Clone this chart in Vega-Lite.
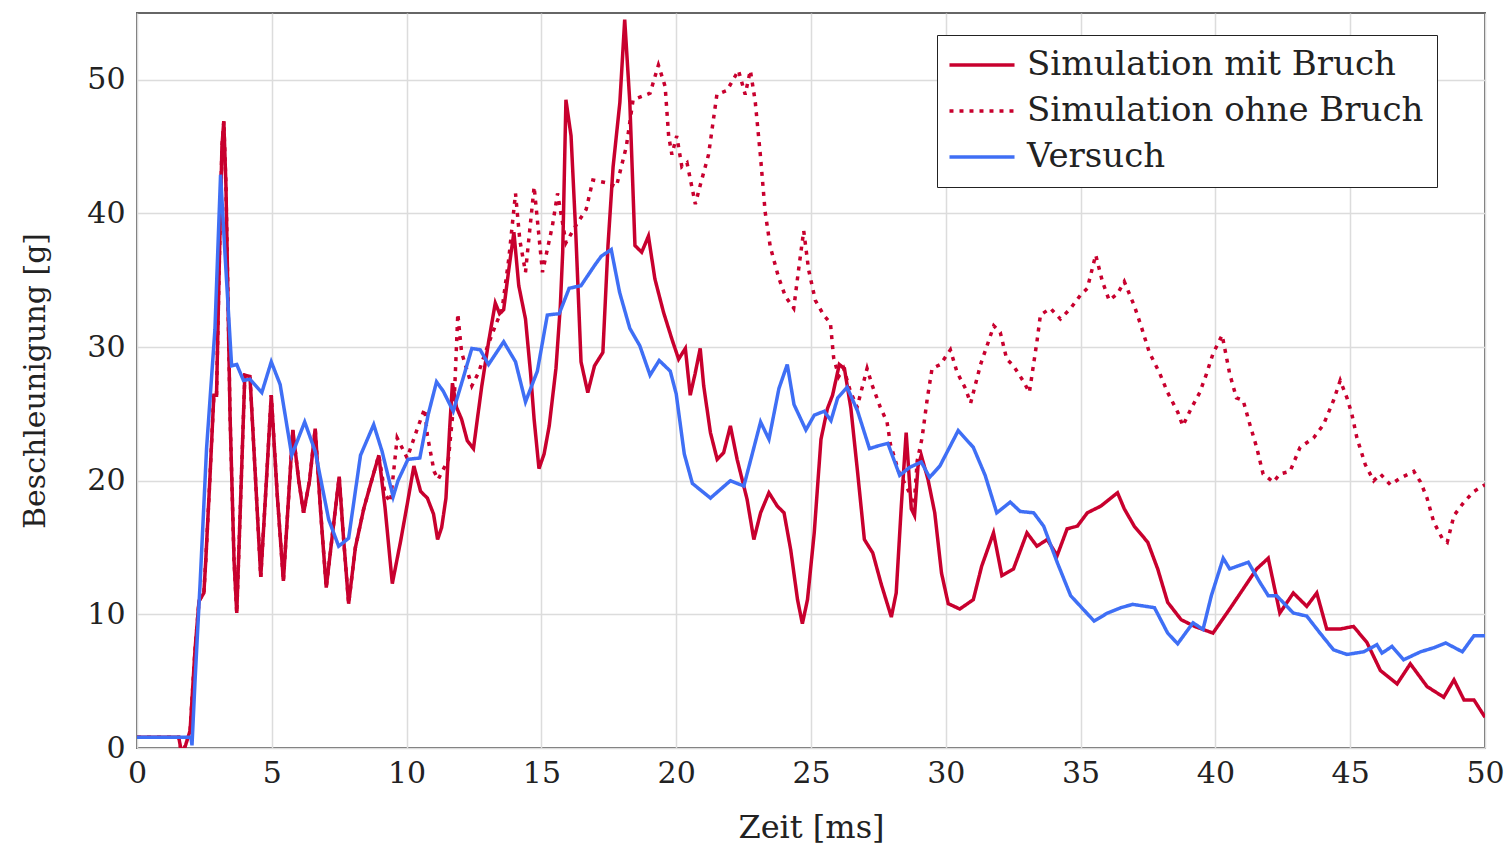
{
  "$schema": "https://vega.github.io/schema/vega-lite/v6.json",
  "width": 1348,
  "height": 735,
  "autosize": "none",
  "padding": {"left": 137, "top": 13, "right": 24, "bottom": 103},
  "background": "white",
  "config": {
    "view": {"stroke": "#666", "strokeWidth": 2},
    "font": "DejaVu Serif",
    "axis": {"labelFont": "DejaVu Serif", "titleFont": "DejaVu Serif", "labelColor": "#222", "titleColor": "#222", "titleFontWeight": "normal", "gridColor": "#dcdcdc", "gridWidth": 1.5, "ticks": false, "domain": false, "labelOverlap": false, "labelFlush": false},
    "legend": {"labelFont": "DejaVu Serif", "labelFontSize": 34, "labelColor": "#222", "labelLimit": 1000}
  },
  "datasets": {
    "mit": [
      {"t":0,"a":0.8},{"t":1.55,"a":0.8},{"t":1.62,"a":0.0},{"t":1.7,"a":-0.3},{"t":1.8,"a":0.2},{"t":1.97,"a":1.3},{"t":2.15,"a":7.3},{"t":2.3,"a":11},{"t":2.48,"a":11.6},{"t":2.55,"a":14},{"t":2.7,"a":20},{"t":2.85,"a":26.4},{"t":2.95,"a":26.4},{"t":3.05,"a":36},{"t":3.15,"a":45},{"t":3.22,"a":46.9},{"t":3.3,"a":42},{"t":3.45,"a":25},{"t":3.6,"a":14},{"t":3.7,"a":10.1},{"t":3.85,"a":19},{"t":4.0,"a":27.9},{"t":4.19,"a":27.8},{"t":4.4,"a":20},{"t":4.59,"a":12.8},{"t":4.8,"a":20},{"t":4.98,"a":26.4},{"t":5.2,"a":19},{"t":5.43,"a":12.5},{"t":5.6,"a":18},{"t":5.78,"a":23.8},{"t":6.0,"a":20},{"t":6.18,"a":17.6},{"t":6.4,"a":20},{"t":6.61,"a":23.9},{"t":6.8,"a":18},{"t":7.02,"a":12.0},{"t":7.25,"a":16},{"t":7.5,"a":20.3},{"t":7.65,"a":16},{"t":7.85,"a":10.8},{"t":8.1,"a":15},{"t":8.41,"a":17.9},{"t":8.7,"a":20},{"t":8.97,"a":21.9},{"t":9.2,"a":18},{"t":9.47,"a":12.3},{"t":9.78,"a":15.5},{"t":10.02,"a":18.2},{"t":10.27,"a":21.1},{"t":10.52,"a":19.2},{"t":10.77,"a":18.7},{"t":11.0,"a":17.5},{"t":11.15,"a":15.6},{"t":11.3,"a":16.5},{"t":11.46,"a":18.7},{"t":11.6,"a":24},{"t":11.7,"a":27.3},{"t":11.85,"a":25.5},{"t":12.04,"a":24.6},{"t":12.25,"a":23},{"t":12.48,"a":22.4},{"t":12.65,"a":25},{"t":12.79,"a":27.1},{"t":13.05,"a":30.5},{"t":13.29,"a":33.3},{"t":13.45,"a":32.5},{"t":13.6,"a":32.8},{"t":13.79,"a":35.8},{"t":13.98,"a":38.6},{"t":14.16,"a":34.6},{"t":14.41,"a":32.1},{"t":14.6,"a":28},{"t":14.73,"a":24.6},{"t":14.91,"a":20.9},{"t":15.1,"a":22},{"t":15.29,"a":24.1},{"t":15.54,"a":28.4},{"t":15.7,"a":33},{"t":15.79,"a":37.1},{"t":15.91,"a":48.5},{"t":16.1,"a":45.8},{"t":16.28,"a":38.3},{"t":16.47,"a":28.9},{"t":16.72,"a":26.6},{"t":16.97,"a":28.6},{"t":17.28,"a":29.6},{"t":17.47,"a":37.6},{"t":17.66,"a":43.5},{"t":17.91,"a":48.3},{"t":18.09,"a":54.5},{"t":18.28,"a":48.3},{"t":18.47,"a":37.6},{"t":18.72,"a":37.1},{"t":18.97,"a":38.3},{"t":19.21,"a":35.1},{"t":19.53,"a":32.6},{"t":19.84,"a":30.6},{"t":20.09,"a":29.1},{"t":20.34,"a":29.9},{"t":20.52,"a":26.4},{"t":20.7,"a":28},{"t":20.89,"a":29.9},{"t":21.02,"a":27.1},{"t":21.27,"a":23.6},{"t":21.52,"a":21.6},{"t":21.76,"a":22.1},{"t":22.01,"a":24.1},{"t":22.26,"a":21.6},{"t":22.63,"a":18.6},{"t":22.88,"a":15.6},{"t":23.13,"a":17.6},{"t":23.44,"a":19.1},{"t":23.75,"a":18.1},{"t":24.0,"a":17.6},{"t":24.25,"a":14.8},{"t":24.5,"a":11.1},{"t":24.68,"a":9.3},{"t":24.87,"a":11.1},{"t":25.12,"a":16.1},{"t":25.37,"a":23.1},{"t":25.61,"a":25.4},{"t":25.8,"a":26.4},{"t":26.05,"a":28.7},{"t":26.24,"a":28.4},{"t":26.48,"a":25.4},{"t":26.73,"a":20.6},{"t":26.98,"a":15.6},{"t":27.29,"a":14.6},{"t":27.6,"a":12.3},{"t":27.98,"a":9.8},{"t":28.16,"a":11.6},{"t":28.35,"a":18.1},{"t":28.53,"a":23.6},{"t":28.72,"a":17.9},{"t":28.84,"a":17.4},{"t":28.97,"a":21.1},{"t":29.09,"a":21.9},{"t":29.34,"a":20.1},{"t":29.59,"a":17.6},{"t":29.84,"a":13.1},{"t":30.09,"a":10.8},{"t":30.52,"a":10.4},{"t":31.02,"a":11.1},{"t":31.33,"a":13.6},{"t":31.77,"a":16.1},{"t":32.08,"a":12.9},{"t":32.51,"a":13.4},{"t":33.01,"a":16.1},{"t":33.38,"a":15.1},{"t":33.76,"a":15.6},{"t":34.13,"a":14.4},{"t":34.5,"a":16.4},{"t":34.88,"a":16.6},{"t":35.25,"a":17.6},{"t":35.75,"a":18.1},{"t":36.37,"a":19.1},{"t":36.62,"a":17.9},{"t":36.99,"a":16.6},{"t":37.49,"a":15.4},{"t":37.86,"a":13.4},{"t":38.23,"a":10.9},{"t":38.73,"a":9.6},{"t":39.23,"a":9.1},{"t":39.91,"a":8.6},{"t":40.53,"a":10.4},{"t":41.03,"a":11.9},{"t":41.53,"a":13.4},{"t":41.96,"a":14.2},{"t":42.39,"a":10.1},{"t":42.89,"a":11.6},{"t":43.39,"a":10.6},{"t":43.76,"a":11.6},{"t":44.13,"a":8.9},{"t":44.63,"a":8.9},{"t":45.12,"a":9.1},{"t":45.62,"a":7.9},{"t":46.12,"a":5.8},{"t":46.74,"a":4.8},{"t":47.23,"a":6.3},{"t":47.85,"a":4.6},{"t":48.47,"a":3.8},{"t":48.85,"a":5.1},{"t":49.22,"a":3.6},{"t":49.59,"a":3.6},{"t":50,"a":2.3}
    ],
    "ohne": [
      {"t":0,"a":0.8},{"t":1.55,"a":0.8},{"t":1.62,"a":0.0},{"t":1.7,"a":-0.3},{"t":1.8,"a":0.2},{"t":1.97,"a":1.3},{"t":2.15,"a":7.3},{"t":2.3,"a":11},{"t":2.48,"a":11.6},{"t":2.55,"a":14},{"t":2.7,"a":20},{"t":2.85,"a":26.4},{"t":2.95,"a":26.4},{"t":3.05,"a":36},{"t":3.15,"a":45},{"t":3.22,"a":46.9},{"t":3.3,"a":42},{"t":3.45,"a":25},{"t":3.6,"a":14},{"t":3.7,"a":10.1},{"t":3.85,"a":19},{"t":4.0,"a":27.9},{"t":4.19,"a":27.8},{"t":4.4,"a":20},{"t":4.59,"a":12.8},{"t":4.8,"a":20},{"t":4.98,"a":26.4},{"t":5.2,"a":19},{"t":5.43,"a":12.5},{"t":5.6,"a":18},{"t":5.78,"a":23.8},{"t":6.0,"a":20},{"t":6.18,"a":17.6},{"t":6.4,"a":20},{"t":6.61,"a":23.9},{"t":6.8,"a":18},{"t":7.02,"a":12.0},{"t":7.25,"a":16},{"t":7.5,"a":20.3},{"t":7.65,"a":16},{"t":7.85,"a":10.8},{"t":8.1,"a":15},{"t":8.41,"a":17.9},{"t":8.7,"a":20},{"t":8.97,"a":21.9},{"t":9.2,"a":19},{"t":9.4,"a":18.4},{"t":9.65,"a":23.2},{"t":10.02,"a":21.7},{"t":10.4,"a":23.9},{"t":10.67,"a":25.4},{"t":10.77,"a":23.4},{"t":11.02,"a":20.7},{"t":11.17,"a":20.1},{"t":11.4,"a":21},{"t":11.55,"a":21.6},{"t":11.77,"a":26.2},{"t":11.9,"a":32.5},{"t":12.04,"a":29.6},{"t":12.42,"a":27.1},{"t":12.67,"a":28.1},{"t":12.92,"a":29.6},{"t":13.29,"a":31.6},{"t":13.54,"a":32.8},{"t":13.79,"a":36.6},{"t":14.04,"a":41.5},{"t":14.2,"a":38},{"t":14.41,"a":35.6},{"t":14.73,"a":42.0},{"t":15.04,"a":35.6},{"t":15.41,"a":39.1},{"t":15.6,"a":41.5},{"t":15.91,"a":37.8},{"t":16.28,"a":39.1},{"t":16.66,"a":40.3},{"t":16.91,"a":42.5},{"t":17.41,"a":42.3},{"t":17.78,"a":42.0},{"t":18.15,"a":45.0},{"t":18.4,"a":48.5},{"t":18.78,"a":48.8},{"t":19.03,"a":49.0},{"t":19.34,"a":51.1},{"t":19.59,"a":49.5},{"t":19.72,"a":45.8},{"t":19.84,"a":44.4},{"t":20.02,"a":45.8},{"t":20.21,"a":43.5},{"t":20.4,"a":43.8},{"t":20.71,"a":40.7},{"t":20.89,"a":42.1},{"t":21.2,"a":44.4},{"t":21.51,"a":48.9},{"t":21.88,"a":49.2},{"t":22.31,"a":50.7},{"t":22.56,"a":48.9},{"t":22.75,"a":50.7},{"t":22.93,"a":48.4},{"t":23.12,"a":44.4},{"t":23.3,"a":40.1},{"t":23.49,"a":37.5},{"t":23.8,"a":35.2},{"t":24.05,"a":33.8},{"t":24.36,"a":32.9},{"t":24.54,"a":35.8},{"t":24.73,"a":38.7},{"t":24.91,"a":35.8},{"t":25.16,"a":33.5},{"t":25.47,"a":32.4},{"t":25.72,"a":31.8},{"t":25.84,"a":29.2},{"t":26.03,"a":27.8},{"t":26.21,"a":28.4},{"t":26.46,"a":26.7},{"t":26.71,"a":25.5},{"t":27.08,"a":28.4},{"t":27.26,"a":27.2},{"t":27.57,"a":25.5},{"t":27.82,"a":24.4},{"t":27.95,"a":22.7},{"t":28.25,"a":20.7},{"t":28.63,"a":19.2},{"t":28.81,"a":17.8},{"t":28.94,"a":21.5},{"t":29.12,"a":23.2},{"t":29.31,"a":26.1},{"t":29.49,"a":28.4},{"t":29.8,"a":28.7},{"t":30.17,"a":29.8},{"t":30.42,"a":28.1},{"t":30.73,"a":26.9},{"t":30.92,"a":25.8},{"t":31.29,"a":28.7},{"t":31.58,"a":30.4},{"t":31.78,"a":31.6},{"t":32.02,"a":31.1},{"t":32.26,"a":29.1},{"t":32.51,"a":28.6},{"t":32.89,"a":27.4},{"t":33.1,"a":26.6},{"t":33.38,"a":30.4},{"t":33.51,"a":32.4},{"t":33.88,"a":32.9},{"t":34.25,"a":32.1},{"t":34.63,"a":32.9},{"t":35.0,"a":33.9},{"t":35.25,"a":34.4},{"t":35.56,"a":36.9},{"t":35.81,"a":34.9},{"t":36.06,"a":33.5},{"t":36.37,"a":34.0},{"t":36.62,"a":34.9},{"t":36.99,"a":33.1},{"t":37.24,"a":31.6},{"t":37.55,"a":29.6},{"t":37.92,"a":28.1},{"t":38.23,"a":26.6},{"t":38.61,"a":25.1},{"t":38.79,"a":24.1},{"t":39.1,"a":25.4},{"t":39.42,"a":26.6},{"t":39.67,"a":28.0},{"t":39.91,"a":29.5},{"t":40.25,"a":30.9},{"t":40.53,"a":28.0},{"t":40.78,"a":26.2},{"t":41.03,"a":26.0},{"t":41.28,"a":24.2},{"t":41.53,"a":22.5},{"t":41.77,"a":20.5},{"t":42.15,"a":19.9},{"t":42.39,"a":20.5},{"t":42.77,"a":20.7},{"t":43.14,"a":22.5},{"t":43.64,"a":23.2},{"t":44.01,"a":24.2},{"t":44.38,"a":26.0},{"t":44.63,"a":27.5},{"t":44.88,"a":26.2},{"t":45.06,"a":25.0},{"t":45.25,"a":23.2},{"t":45.56,"a":21.2},{"t":45.87,"a":20.0},{"t":46.12,"a":20.5},{"t":46.49,"a":19.7},{"t":46.86,"a":20.2},{"t":47.36,"a":20.7},{"t":47.61,"a":19.9},{"t":47.85,"a":18.7},{"t":48.1,"a":16.9},{"t":48.41,"a":15.7},{"t":48.6,"a":15.4},{"t":48.85,"a":17.4},{"t":49.22,"a":18.4},{"t":49.59,"a":19.2},{"t":50,"a":19.7}
    ],
    "vers": [
      {"t":0,"a":0.8},{"t":2.0,"a":0.8},{"t":2.04,"a":0.2},{"t":2.15,"a":4.9},{"t":2.34,"a":12.3},{"t":2.58,"a":22.4},{"t":2.89,"a":31.3},{"t":3.1,"a":42.9},{"t":3.26,"a":37.1},{"t":3.51,"a":28.6},{"t":3.7,"a":28.7},{"t":3.95,"a":27.5},{"t":4.19,"a":27.6},{"t":4.63,"a":26.6},{"t":4.98,"a":28.9},{"t":5.31,"a":27.2},{"t":5.74,"a":21.9},{"t":6.22,"a":24.4},{"t":6.61,"a":22.2},{"t":7.11,"a":17.1},{"t":7.48,"a":15.1},{"t":7.85,"a":15.7},{"t":8.29,"a":21.9},{"t":8.78,"a":24.2},{"t":9.09,"a":22.2},{"t":9.5,"a":18.8},{"t":9.68,"a":20.0},{"t":10.05,"a":21.6},{"t":10.49,"a":21.7},{"t":10.8,"a":24.95},{"t":11.11,"a":27.4},{"t":11.36,"a":26.7},{"t":11.73,"a":25.2},{"t":12.1,"a":27.7},{"t":12.42,"a":29.9},{"t":12.73,"a":29.8},{"t":13.04,"a":28.7},{"t":13.6,"a":30.4},{"t":14.04,"a":28.9},{"t":14.41,"a":25.9},{"t":14.85,"a":28.2},{"t":15.22,"a":32.4},{"t":15.66,"a":32.5},{"t":16.03,"a":34.4},{"t":16.47,"a":34.6},{"t":16.97,"a":36.1},{"t":17.22,"a":36.8},{"t":17.59,"a":37.3},{"t":17.9,"a":34.1},{"t":18.28,"a":31.4},{"t":18.65,"a":30.1},{"t":19.03,"a":27.9},{"t":19.37,"a":29.0},{"t":19.78,"a":28.2},{"t":20.0,"a":26.5},{"t":20.3,"a":22},{"t":20.6,"a":19.8},{"t":21.27,"a":18.7},{"t":22.01,"a":20.0},{"t":22.51,"a":19.6},{"t":23.13,"a":24.4},{"t":23.44,"a":23.1},{"t":23.81,"a":26.9},{"t":24.12,"a":28.7},{"t":24.37,"a":25.7},{"t":24.81,"a":23.8},{"t":25.12,"a":24.9},{"t":25.49,"a":25.2},{"t":25.74,"a":24.5},{"t":25.99,"a":26.2},{"t":26.34,"a":27.0},{"t":26.73,"a":25.2},{"t":27.17,"a":22.4},{"t":27.48,"a":22.6},{"t":27.85,"a":22.8},{"t":28.29,"a":20.4},{"t":28.66,"a":21.0},{"t":29.09,"a":21.4},{"t":29.4,"a":20.25},{"t":29.78,"a":21.1},{"t":30.46,"a":23.75},{"t":31.02,"a":22.5},{"t":31.46,"a":20.4},{"t":31.89,"a":17.6},{"t":32.39,"a":18.4},{"t":32.76,"a":17.7},{"t":33.26,"a":17.6},{"t":33.63,"a":16.6},{"t":34.13,"a":13.9},{"t":34.63,"a":11.4},{"t":35.5,"a":9.5},{"t":36.0,"a":10.1},{"t":36.5,"a":10.5},{"t":36.93,"a":10.75},{"t":37.74,"a":10.5},{"t":38.23,"a":8.6},{"t":38.6,"a":7.8},{"t":39.17,"a":9.37},{"t":39.54,"a":8.87},{"t":39.85,"a":11.4},{"t":40.29,"a":14.2},{"t":40.53,"a":13.4},{"t":41.22,"a":13.9},{"t":41.65,"a":12.4},{"t":41.96,"a":11.4},{"t":42.27,"a":11.4},{"t":42.89,"a":10.1},{"t":43.39,"a":9.87},{"t":43.88,"a":8.6},{"t":44.38,"a":7.35},{"t":44.88,"a":7.0},{"t":45.5,"a":7.2},{"t":45.99,"a":7.73},{"t":46.18,"a":7.1},{"t":46.55,"a":7.6},{"t":46.98,"a":6.6},{"t":47.61,"a":7.2},{"t":48.1,"a":7.5},{"t":48.54,"a":7.86},{"t":49.16,"a":7.2},{"t":49.59,"a":8.4},{"t":50,"a":8.4}
    ]
  },
  "encoding": {
    "x": {"field": "t", "type": "quantitative", "scale": {"domain": [0, 50], "nice": false, "zero": false},
      "axis": {"values": [0,5,10,15,20,25,30,35,40,45,50], "title": "Zeit [ms]", "labelFontSize": 30, "titleFontSize": 32, "labelPadding": 10, "titlePadding": 24}},
    "y": {"field": "a", "type": "quantitative", "scale": {"domain": [0, 55], "nice": false},
      "axis": {"values": [0,10,20,30,40,50], "title": "Beschleunigung [g]", "labelFontSize": 30, "titleFontSize": 30, "labelPadding": 12, "titlePadding": 36}}
  },
  "layer": [
    {
      "data": {"name": "mit"},
      "mark": {"type": "line", "strokeWidth": 3.5, "clip": true, "interpolate": "linear"},
      "encoding": {
        "color": {"datum": "Simulation mit Bruch", "type": "nominal",
          "scale": {"domain": ["Simulation mit Bruch", "Simulation ohne Bruch", "Versuch"], "range": ["#C8002E", "#C8002E", "#3F6FF5"]},
          "legend": {"orient": "none", "legendX": 800, "legendY": 22, "title": null, "symbolType": "M-3,0L3,0", "symbolSize": 470, "symbolStrokeWidth": 3.5, "symbolOffset": 15, "labelOffset": 28, "rowPadding": 12, "padding": 13, "strokeColor": "#222", "fillColor": "white", "cornerRadius": 0}},
        "strokeDash": {"datum": "Simulation mit Bruch", "type": "nominal",
          "scale": {"domain": ["Simulation mit Bruch", "Simulation ohne Bruch", "Versuch"], "range": [[1, 0], [4, 6], [1, 0]]},
          "legend": {"orient": "none", "legendX": 800, "legendY": 22, "title": null, "symbolType": "M-3,0L3,0", "symbolSize": 470, "symbolStrokeWidth": 3.5, "symbolOffset": 15, "labelOffset": 28, "rowPadding": 12, "padding": 13, "strokeColor": "#222", "fillColor": "white", "cornerRadius": 0}}
      }
    },
    {
      "data": {"name": "ohne"},
      "mark": {"type": "line", "strokeWidth": 3.5, "clip": true},
      "encoding": {
        "color": {"datum": "Simulation ohne Bruch", "type": "nominal"},
        "strokeDash": {"datum": "Simulation ohne Bruch", "type": "nominal"}
      }
    },
    {
      "data": {"name": "vers"},
      "mark": {"type": "line", "strokeWidth": 3.5, "clip": true},
      "encoding": {
        "color": {"datum": "Versuch", "type": "nominal"},
        "strokeDash": {"datum": "Versuch", "type": "nominal"}
      }
    }
  ]
}
